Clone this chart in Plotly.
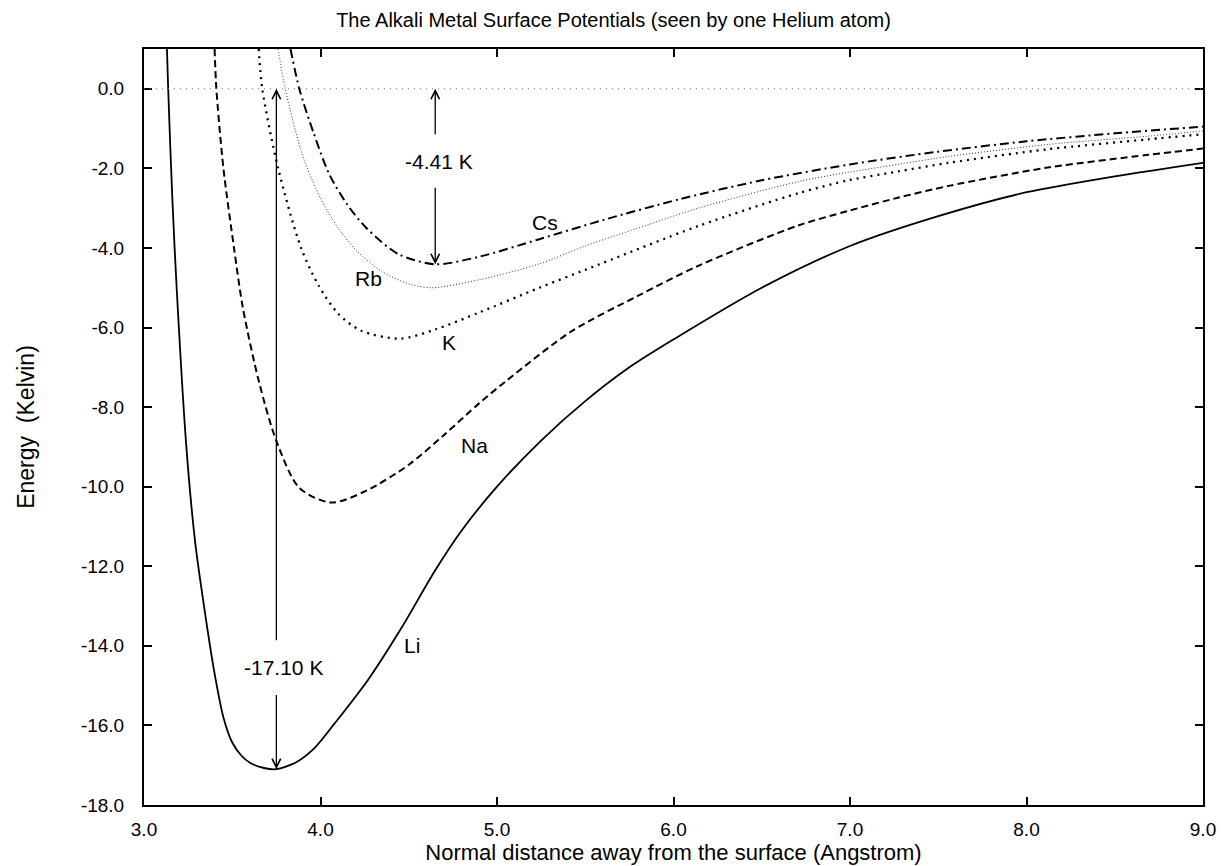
import plotly.graph_objects as go

# ---------------- data ----------------
li_x = [3.13, 3.137, 3.16, 3.185, 3.24, 3.29, 3.34, 3.40, 3.45, 3.50, 3.55, 3.60, 3.68, 3.75,
        3.86, 3.97, 4.08, 4.27, 4.46, 4.65, 4.80, 5.00, 5.25, 5.50, 5.75, 6.00, 6.50,
        7.00, 7.50, 8.00, 8.50, 9.00]
li_y = [1.0, 0.0, -2.7, -5.0, -9.0, -11.4, -13.0, -14.7, -15.8, -16.43, -16.75, -16.94, -17.07, -17.1,
        -16.93, -16.55, -15.95, -14.85, -13.54, -12.1, -11.1, -10.0, -8.84, -7.85, -7.0, -6.3, -5.0,
        -3.95, -3.2, -2.6, -2.2, -1.86]

na_x = [3.40, 3.41, 3.45, 3.51, 3.56, 3.65, 3.75, 3.88, 4.06, 4.26, 4.50, 4.70, 4.90, 5.05, 5.42,
        5.80, 6.14, 6.71, 6.99, 7.27, 7.56, 8.12, 8.69, 9.00]
na_y = [1.0, 0.0, -2.0, -4.0, -5.5, -7.34, -8.85, -10.03, -10.4, -10.1, -9.45, -8.7, -7.9, -7.35, -6.1,
        -5.2, -4.45, -3.43, -3.07, -2.74, -2.44, -1.98, -1.66, -1.5]

k_x = [3.65, 3.67, 3.76, 3.89, 3.99, 4.10, 4.23, 4.45, 4.65, 4.90, 5.24, 5.50,
       6.14, 6.71, 6.99, 7.27, 7.56, 8.12, 8.69, 9.00]
k_y = [1.0, 0.0, -2.0, -4.0, -4.95, -5.65, -6.08, -6.28, -6.05, -5.62, -5.0, -4.55,
       -3.45, -2.62, -2.3, -2.08, -1.86, -1.52, -1.27, -1.14]

rb_x = [3.76, 3.80, 3.90, 4.00, 4.10, 4.20, 4.35, 4.50, 4.63, 4.90, 5.24, 5.50, 5.80,
        6.14, 6.71, 6.99, 7.27, 7.56, 8.12, 8.69, 9.00]
rb_y = [1.0, 0.0, -1.7, -2.75, -3.5, -4.05, -4.6, -4.9, -5.0, -4.8, -4.4, -3.95, -3.5,
        -3.0, -2.33, -2.1, -1.9, -1.7, -1.4, -1.19, -1.06]

cs_x = [3.83, 3.88, 3.96, 4.05, 4.15, 4.26, 4.44, 4.65, 4.90, 5.24, 5.60,
        6.03, 6.50, 7.00, 7.50, 8.00, 8.50, 9.00]
cs_y = [1.0, 0.0, -1.1, -2.15, -2.9, -3.5, -4.15, -4.41, -4.22, -3.78, -3.3,
        -2.78, -2.3, -1.9, -1.58, -1.32, -1.12, -0.95]

x_ticks = [3.0, 4.0, 5.0, 6.0, 7.0, 8.0, 9.0]
y_ticks = [0.0, -2.0, -4.0, -6.0, -8.0, -10.0, -12.0, -14.0, -16.0, -18.0]

series_labels = ["Li", "Na", "K", "Rb", "Cs"]
label_x = [4.52, 4.87, 4.73, 4.27, 5.27]
label_y = [-14.0, -8.97, -6.38, -4.77, -3.37]

li_depth_x, li_depth = 3.75, -17.10
cs_depth_x, cs_depth = 4.65, -4.41

FONT = "Liberation Sans, Arial, Helvetica, sans-serif"

fig = go.Figure()

styles = [
    (li_x, li_y, dict(color="black", width=1.8, dash="solid")),
    (na_x, na_y, dict(color="black", width=2.0, dash="7px,4px")),
    (k_x, k_y, dict(color="black", width=2.3, dash="2px,5px")),
    (rb_x, rb_y, dict(color="#333333", width=1.0, dash="1px,2px")),
    (cs_x, cs_y, dict(color="black", width=2.0, dash="9px,4px,2px,4px")),
]
for (xs, ys, ln), name in zip(styles, series_labels):
    fig.add_trace(go.Scatter(x=xs, y=ys, mode="lines", name=name,
                             line=dict(shape="spline", smoothing=0.8, **ln),
                             showlegend=False, cliponaxis=True))

# zero reference line
fig.add_shape(type="line", x0=3.0, x1=9.0, y0=0, y1=0, xref="x", yref="y",
              line=dict(color="#777777", width=1, dash="1px,5px"))

# depth arrows (two segments each, with a gap for the label)
def arrow(x, y_head, y_tail):
    fig.add_annotation(x=x, y=y_head, ax=x, ay=y_tail, xref="x", yref="y",
                       axref="x", ayref="y", text="", showarrow=True,
                       arrowhead=5, arrowsize=1.3, arrowwidth=1.3, arrowcolor="black")

arrow(li_depth_x, 0.0, -13.9)
arrow(li_depth_x, li_depth, -15.2)
arrow(cs_depth_x, 0.0, -1.18)
arrow(cs_depth_x, cs_depth, -2.45)

LBL = dict(family=FONT, size=21, color="black")
fig.add_annotation(x=3.79, y=-14.55, text=f"{li_depth:.2f} K", showarrow=False, font=LBL)
fig.add_annotation(x=4.67, y=-1.83, text=f"{cs_depth:.2f} K", showarrow=False, font=LBL)

for t, lx, ly in zip(series_labels, label_x, label_y):
    fig.add_annotation(x=lx, y=ly, text=t, showarrow=False, font=LBL)

axis_common = dict(showgrid=False, zeroline=False, showline=True, linecolor="black",
                   linewidth=2, mirror="ticks", ticks="inside", ticklen=8, tickwidth=1.5,
                   tickcolor="black", automargin=False,
                   tickfont=dict(family=FONT, size=19, color="black"))

fig.update_xaxes(range=[3.0, 9.0], tickvals=x_ticks,
                 ticktext=[f"{v:.1f}" for v in x_ticks],
                 title=dict(text="Normal distance away from the surface (Angstrom)",
                            font=dict(family=FONT, size=22, color="black"), standoff=4),
                 ticklabelstandoff=6, **axis_common)
fig.update_yaxes(range=[-18.0, 1.0], tickvals=y_ticks,
                 ticktext=[f"{v:.1f}" for v in y_ticks],
                 title=dict(text="Energy&nbsp;&nbsp;(Kelvin)",
                            font=dict(family=FONT, size=23, color="black"), standoff=40),
                 ticklabelstandoff=14, **axis_common)

fig.update_layout(
    width=1227, height=866,
    margin=dict(l=144, r=24, t=49, b=61, autoexpand=False),
    paper_bgcolor="white", plot_bgcolor="white",
    title=dict(text="The Alkali Metal Surface Potentials (seen by one Helium atom)",
               x=0.5, xref="container", xanchor="center", y=0.977, yanchor="middle",
               font=dict(family=FONT, size=20, color="black")),
)

fig.write_html("out.html")
